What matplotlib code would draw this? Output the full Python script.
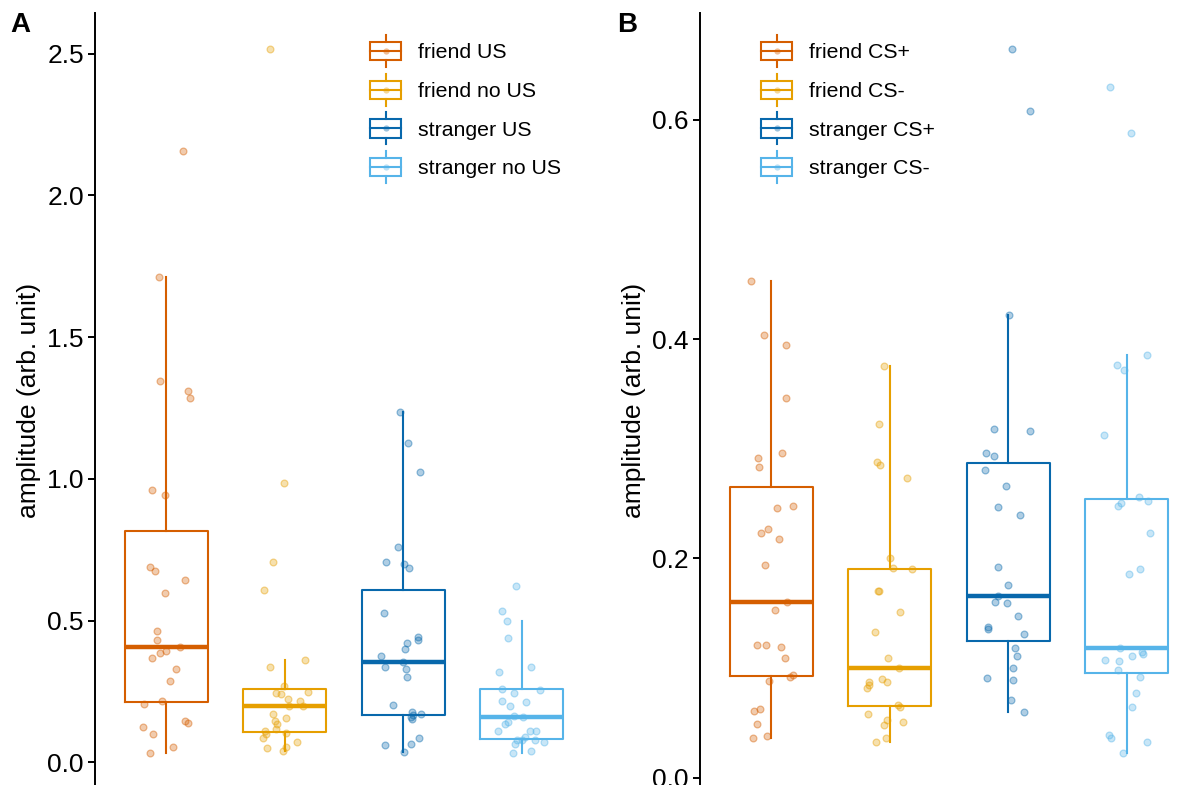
import numpy as np
import matplotlib
matplotlib.use("Agg")
import matplotlib.pyplot as plt
from matplotlib.legend_handler import HandlerBase
from matplotlib.patches import Rectangle, Patch
from matplotlib.lines import Line2D

plt.rcParams["font.family"] = ["Liberation Sans", "DejaVu Sans"]

COLORS = ["#D55E00", "#E69F00", "#0868AC", "#56B4E9"]

labels_a = ["friend US", "friend no US", "stranger US", "stranger no US"]
labels_b = ["friend CS+", "friend CS-", "stranger CS+", "stranger CS-"]

# ---- panel A: amplitude per subject + horizontal jitter (category units)
a_friend_us = [2.156, 1.713, 1.346, 1.309, 1.287, 0.961, 0.942, 0.688, 0.676, 0.644,
               0.598, 0.465, 0.432, 0.407, 0.393, 0.387, 0.368, 0.331, 0.287, 0.206,
               0.218, 0.146, 0.137, 0.126, 0.100, 0.054, 0.034]
a_friend_us_jit = [0.142, -0.061, -0.055, 0.184, 0.200, -0.119, -0.013, -0.132, -0.094, 0.155,
                   -0.010, -0.081, -0.074, 0.113, -0.003, -0.055, -0.119, 0.081, 0.036, -0.190,
                   -0.032, 0.155, 0.181, -0.194, -0.107, 0.055, -0.132]
a_friend_nous = [2.518, 0.985, 0.708, 0.608, 0.361, 0.337, 0.269, 0.246, 0.242, 0.248,
                 0.224, 0.218, 0.197, 0.199, 0.172, 0.156, 0.147, 0.134, 0.119, 0.110,
                 0.105, 0.101, 0.085, 0.073, 0.051, 0.054, 0.041]
a_friend_nous_jit = [-0.126, -0.006, -0.103, -0.174, 0.174, -0.126, -0.006, -0.071, -0.029, 0.197,
                     0.026, 0.132, 0.158, 0.040, -0.100, 0.010, -0.081, -0.065, -0.074, -0.168,
                     0.010, -0.161, -0.184, 0.103, -0.152, 0.013, -0.013]
a_stranger_us = [1.236, 1.126, 1.024, 0.761, 0.706, 0.699, 0.686, 0.528, 0.443, 0.433,
                 0.422, 0.401, 0.376, 0.355, 0.337, 0.329, 0.300, 0.203, 0.177, 0.167,
                 0.169, 0.160, 0.153, 0.086, 0.066, 0.0625, 0.035]
a_stranger_us_jit = [-0.029, 0.039, 0.139, -0.042, -0.145, 0.006, 0.052, -0.165, 0.126, 0.126,
                     0.029, 0.016, -0.190, 0.000, -0.158, 0.023, 0.029, -0.087, 0.077, 0.084,
                     0.152, 0.065, 0.074, 0.136, 0.068, -0.158, 0.003]
a_stranger_nous = [0.621, 0.535, 0.499, 0.439, 0.337, 0.318, 0.258, 0.256, 0.243, 0.217,
                   0.212, 0.199, 0.165, 0.159, 0.143, 0.134, 0.110, 0.110, 0.110, 0.088,
                   0.080, 0.078, 0.078, 0.070, 0.065, 0.041, 0.034]
a_stranger_nous_jit = [-0.052, -0.171, -0.129, -0.116, 0.074, -0.190, -0.171, 0.152, -0.068, -0.168,
                       0.036, -0.097, -0.068, 0.006, -0.116, -0.145, -0.197, 0.065, 0.119, 0.029,
                       0.000, 0.107, -0.045, 0.187, -0.058, 0.081, -0.071]

# ---- panel B
b_friend_csp = [0.453, 0.404, 0.3945, 0.346, 0.292, 0.2965, 0.283, 0.246, 0.248, 0.2268,
                0.223, 0.218, 0.1936, 0.160, 0.153, 0.121, 0.121, 0.119, 0.109, 0.094,
                0.092, 0.088, 0.061, 0.063, 0.049, 0.036, 0.038]
b_friend_csp_jit = [-0.166, -0.061, 0.122, 0.122, -0.109, 0.090, -0.106, 0.048, 0.186, -0.026,
                    -0.083, 0.067, -0.055, 0.138, 0.032, -0.122, -0.041, 0.080, 0.115, 0.183,
                    0.157, -0.019, -0.141, -0.093, -0.122, -0.154, -0.032]
b_friend_csm = [0.3757, 0.323, 0.2877, 0.2852, 0.273, 0.2003, 0.1915, 0.190, 0.1705, 0.1705,
                0.1507, 0.133, 0.109, 0.0998, 0.090, 0.0874, 0.087, 0.0846, 0.082, 0.0664,
                0.0648, 0.058, 0.0527, 0.0511, 0.048, 0.0329, 0.036]
b_friend_csm_jit = [-0.048, -0.090, -0.109, -0.080, 0.147, 0.003, 0.026, 0.189, -0.096, -0.090,
                    0.087, -0.125, -0.016, 0.080, -0.061, -0.019, -0.170, -0.176, -0.189, 0.074,
                    0.087, -0.183, -0.026, 0.109, -0.048, -0.118, -0.029]
b_stranger_csp = [0.665, 0.6076, 0.4219, 0.318, 0.3163, 0.296, 0.2935, 0.281, 0.266, 0.2469,
                  0.2396, 0.192, 0.1753, 0.1653, 0.160, 0.159, 0.1476, 0.1373, 0.136, 0.1312,
                  0.1184, 0.1114, 0.1005, 0.0913, 0.0895, 0.0709, 0.0597]
b_stranger_csp_jit = [0.035, 0.188, 0.006, -0.115, 0.188, -0.185, -0.121, -0.195, -0.019, -0.089,
                      0.099, -0.083, 0.003, -0.083, -0.109, -0.006, 0.083, -0.173, -0.170, 0.131,
                      0.061, 0.073, 0.045, -0.179, 0.045, 0.022, 0.134]
b_stranger_csm = [0.6295, 0.5884, 0.3857, 0.3766, 0.3714, 0.3123, 0.2475, 0.2508, 0.256, 0.2527,
                  0.2234, 0.1906, 0.1854, 0.1187, 0.1148, 0.1129, 0.1108, 0.1075, 0.1062, 0.0986,
                  0.0919, 0.0773, 0.0645, 0.039, 0.0365, 0.0323, 0.0228]
b_stranger_csm_jit = [-0.142, 0.034, 0.168, -0.078, -0.024, -0.187, -0.072, -0.050, 0.104, 0.180,
                      0.193, 0.110, 0.024, -0.056, 0.129, 0.142, 0.046, -0.181, -0.062, -0.075,
                      0.113, 0.075, 0.043, -0.151, -0.136, 0.168, -0.030]


class BoxKey(HandlerBase):
    """ggplot-like boxplot legend key: box, median, whiskers and a dot."""
    def create_artists(self, legend, orig_handle, xdescent, ydescent, width, height, fontsize, trans):
        c = orig_handle.get_edgecolor()
        x0, y0 = -xdescent, -ydescent
        cx, cy = x0 + width / 2, y0 + height / 2
        w = 5.0
        rect = Rectangle((x0, y0), width, height, fill=False, ec=c, lw=1.5, transform=trans)
        med = Line2D([x0, x0 + width], [cy, cy], color=c, lw=1.5, transform=trans)
        up = Line2D([cx, cx], [y0 + height, y0 + height + w], color=c, lw=1.5, transform=trans)
        dn = Line2D([cx, cx], [y0, y0 - w], color=c, lw=1.5, transform=trans)
        dot = Line2D([cx], [cy], marker="o", ms=4.5, color=c, alpha=0.4, mew=0, transform=trans)
        return [rect, med, up, dn, dot]


def panel(ax, groups, jitters, labels, legend_xy):
    pos = np.arange(1, len(groups) + 1)
    bp = ax.boxplot(groups, positions=pos, widths=0.7, whis=1.5, showfliers=False,
                    showcaps=False, manage_ticks=False, zorder=2)
    for i, c in enumerate(COLORS):
        bp["boxes"][i].set(color=c, lw=1.5)
        bp["medians"][i].set(color=c, lw=3.2, solid_capstyle="butt")
        for wl in bp["whiskers"][2 * i:2 * i + 2]:
            wl.set(color=c, lw=1.5)
        vals = np.asarray(groups[i])
        xs = pos[i] + np.asarray(jitters[i])
        ax.scatter(xs, vals, s=24, facecolor=matplotlib.colors.to_rgba(c, 0.32),
                   edgecolor=matplotlib.colors.to_rgba(c, 0.42), lw=0.9, zorder=3)

    allv = np.concatenate([np.asarray(g) for g in groups])
    rng = allv.max() - allv.min()
    ax.set_ylim(allv.min() - 0.05 * rng, allv.max() + 0.05 * rng)
    ax.set_xlim(0.4, 4.6)
    ax.set_xticks([])
    for s in ("top", "right", "bottom"):
        ax.spines[s].set_visible(False)
    ax.spines["left"].set_linewidth(1.4)
    ax.tick_params(axis="y", labelsize=19, width=1.4, length=5, pad=3, colors="black")
    ax.set_ylabel("amplitude (arb. unit)", fontsize=19, labelpad=4.5)

    handles = [Patch(edgecolor=c, facecolor="none") for c in COLORS]
    ax.legend(handles, labels, handler_map={Patch: BoxKey()}, loc="upper left",
              bbox_to_anchor=legend_xy, bbox_transform=ax.figure.transFigure,
              frameon=False, fontsize=15.3, handlelength=1.46, handleheight=0.94,
              handletextpad=0.8, labelspacing=0.86, borderpad=0, borderaxespad=0)


fig = plt.figure(figsize=(11.93, 7.85), dpi=100)
ax_a = fig.add_axes([95 / 1193, -0.0037, 498 / 1193, 0.9867])
ax_b = fig.add_axes([700 / 1193, -0.0037, 493 / 1193, 0.9867])

panel(ax_a, [a_friend_us, a_friend_nous, a_stranger_us, a_stranger_nous],
      [a_friend_us_jit, a_friend_nous_jit, a_stranger_us_jit, a_stranger_nous_jit],
      labels_a, (370 / 1193, 1 - 42 / 785))
panel(ax_b, [b_friend_csp, b_friend_csm, b_stranger_csp, b_stranger_csm],
      [b_friend_csp_jit, b_friend_csm_jit, b_stranger_csp_jit, b_stranger_csm_jit],
      labels_b, (761 / 1193, 1 - 42 / 785))
ax_a.set_yticks([0.0, 0.5, 1.0, 1.5, 2.0, 2.5])
ax_a.set_yticklabels(["0.0", "0.5", "1.0", "1.5", "2.0", "2.5"])
ax_b.set_xlim(0.4, 4.56)
ax_b.set_yticks([0.0, 0.2, 0.4, 0.6])
ax_b.set_yticklabels(["0.0", "0.2", "0.4", "0.6"])

fig.text(10 / 1193, 1 - 12 / 785, "A", fontsize=20, fontweight="bold", va="top", ha="left")
fig.text(617 / 1193, 1 - 12 / 785, "B", fontsize=20, fontweight="bold", va="top", ha="left")

fig.savefig("out.png", dpi=100)
